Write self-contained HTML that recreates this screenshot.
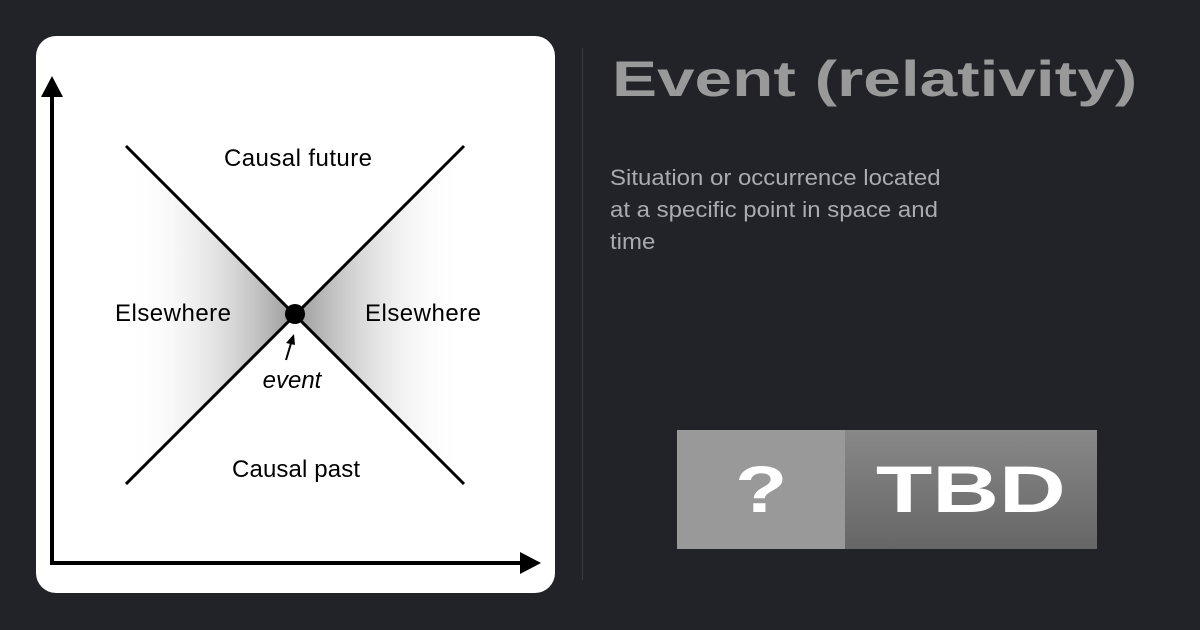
<!DOCTYPE html>
<html><head><style>
body{margin:0;width:1200px;height:630px;background:#212328;position:relative;overflow:hidden;font-family:"Liberation Sans",sans-serif}
.card{position:absolute;left:36px;top:36px;width:519px;height:557px;background:#fff;border-radius:20px}
.div{position:absolute;left:582px;top:48px;width:1px;height:532px;background:#383a40}
h1{position:absolute;left:612px;top:50px;margin:0;font-size:50px;font-weight:bold;color:#999;white-space:nowrap;transform:scaleX(1.35);transform-origin:left top}
.desc{position:absolute;left:610px;top:162px;font-size:22px;line-height:32px;color:#a8abb0;white-space:nowrap;transform:scaleX(1.09);transform-origin:left top}
.b1{position:absolute;left:677px;top:430px;width:168px;height:119px;background:#999;color:#fff;font-weight:bold;font-size:66px;text-align:center;line-height:119px}
.b2{position:absolute;left:845px;top:430px;width:252px;height:119px;background:linear-gradient(#888,#666);color:#fff;font-weight:bold;font-size:66px;text-align:center;line-height:119px}
.b1 span{display:inline-block;transform:scaleX(1.3)}
.b2 span{display:inline-block;transform:scaleX(1.4)}
</style></head><body>
<div class="card"></div>
<svg style="position:absolute;left:0;top:0" width="580" height="630">
<defs>
<linearGradient id="gl" x1="1" x2="0" y1="0" y2="0"><stop offset="0" stop-color="#999"/><stop offset="1" stop-color="#fff" stop-opacity="0"/></linearGradient>
<linearGradient id="gr" x1="0" x2="1" y1="0" y2="0"><stop offset="0" stop-color="#999"/><stop offset="1" stop-color="#fff" stop-opacity="0"/></linearGradient>
</defs>
<polygon points="295,315 126,146 126,484" fill="url(#gl)"/>
<polygon points="295,315 464,146 464,484" fill="url(#gr)"/>
<line x1="126" y1="146" x2="464" y2="484" stroke="#000" stroke-width="3"/>
<line x1="464" y1="146" x2="126" y2="484" stroke="#000" stroke-width="3"/>
<circle cx="295" cy="314" r="10" fill="#000"/>
<polyline points="52,96 52,563 522,563" fill="none" stroke="#000" stroke-width="4"/>
<polygon points="52,76 41,97 63,97" fill="#000"/>
<polygon points="541,563 520,552 520,574" fill="#000"/>
<line x1="286" y1="360" x2="292" y2="340" stroke="#000" stroke-width="2"/>
<polygon points="294,334 286,343 295,345" fill="#000"/>
<g font-family="Liberation Sans,sans-serif" font-size="24" fill="#000">
<text x="298" y="166" text-anchor="middle" textLength="148">Causal future</text>
<text x="173" y="321" text-anchor="middle" textLength="116">Elsewhere</text>
<text x="423" y="321" text-anchor="middle" textLength="116">Elsewhere</text>
<text x="296" y="477" text-anchor="middle" textLength="128">Causal past</text>
<text x="292" y="388" text-anchor="middle" font-style="italic">event</text>
</g>
</svg>
<div class="div"></div>
<h1>Event (relativity)</h1>
<div class="desc">Situation or occurrence located<br>at a specific point in space and<br>time</div>
<div class="b1"><span>?</span></div>
<div class="b2"><span>TBD</span></div>
</body></html>
